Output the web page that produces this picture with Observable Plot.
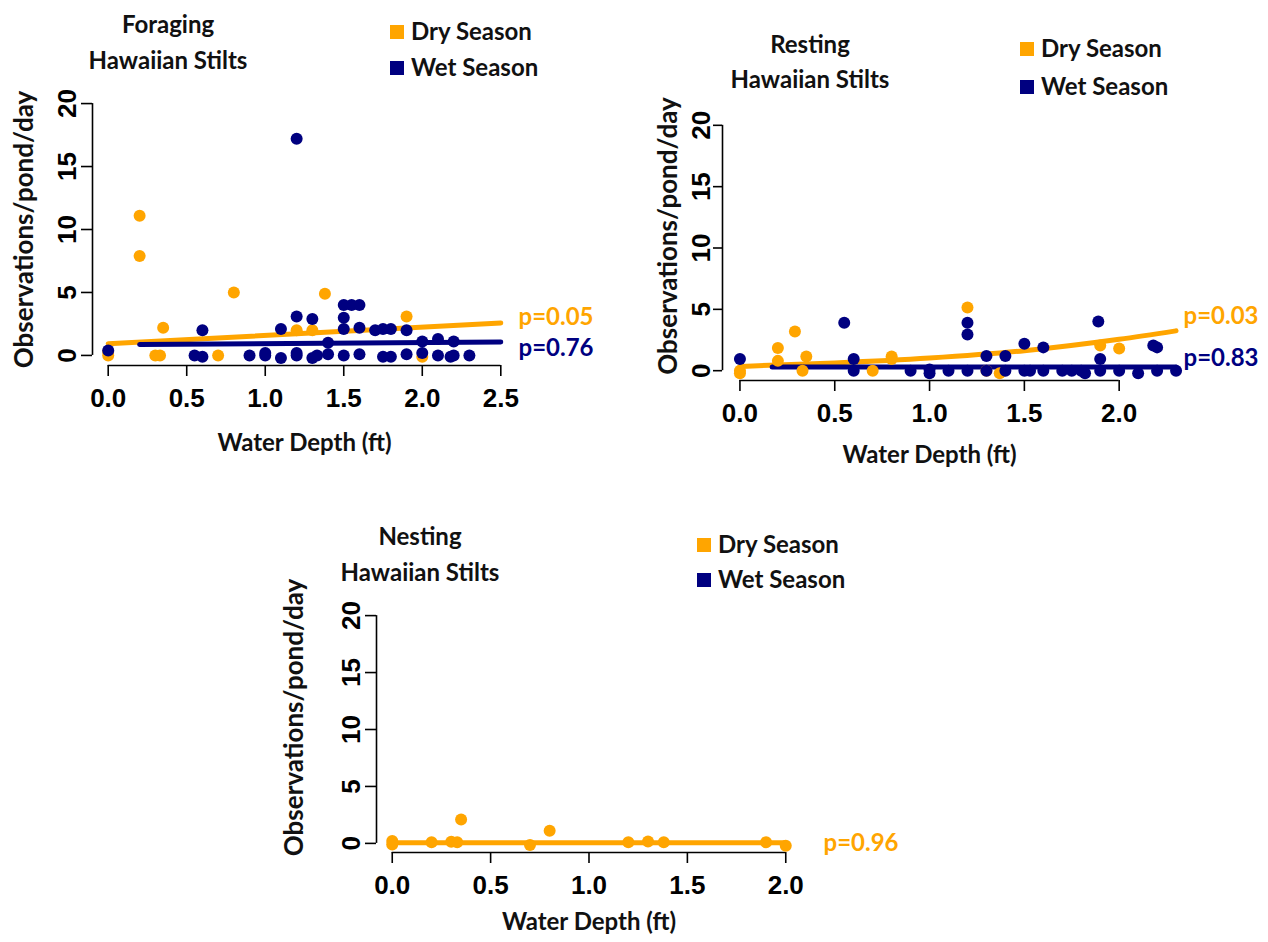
<!DOCTYPE html>
<html><head><meta charset="utf-8">
<script src="https://cdn.jsdelivr.net/npm/d3@7"></script>
<script src="https://cdn.jsdelivr.net/npm/@observablehq/plot@0.6"></script>
<style>
body{margin:0;background:#fff;}
#chart{position:relative;width:1268px;height:942px;overflow:hidden;background:#fff;}
.abs{position:absolute;}
.t{font-family:Lato,"Open Sans",sans-serif;font-weight:700;font-size:24px;line-height:24px;color:#111;white-space:nowrap;}
.ctr{transform:translateX(-50%);}
.sw{position:absolute;width:14px;height:14px;}
svg{position:absolute;background:transparent;overflow:visible;}
</style></head><body><div id="chart"></div>
<script>
// ---------- data ----------
const seasons = ["Dry Season", "Wet Season"];
const seasonColors = ["#FFA500", "#000080"];
const yTicks = [0, 5, 10, 15, 20];
const xTicksForaging = [0, 0.5, 1.0, 1.5, 2.0, 2.5];
const xTicksResting = [0, 0.5, 1.0, 1.5, 2.0];
const xTicksNesting = [0, 0.5, 1.0, 1.5, 2.0];
const panelTitles = ["Foraging", "Resting", "Nesting"];
const titleSub = "Hawaiian Stilts";
const xLabel = "Water Depth (ft)";
const yLabel = "Observations/pond/day";

// Foraging
const foragingDryX = [0, 0, 0.2, 0.2, 0.3, 0.33, 0.35, 0.7, 0.8, 1.2, 1.3, 1.38, 1.9, 2.0];
const foragingDryY = [0, 0.3, 11.1, 7.9, 0, 0, 2.2, 0, 5.0, 2.0, 2.0, 4.9, 3.1, -0.1];
const foragingWetX = [0, 0.55, 0.6, 0.6, 0.9, 1.0, 1.0, 1.1, 1.1, 1.2, 1.2, 1.2, 1.2, 1.3, 1.3, 1.33, 1.4, 1.4,
  1.5, 1.55, 1.6, 1.5, 1.5, 1.5, 1.6, 1.6, 1.7, 1.75, 1.8, 1.75, 1.8, 1.9, 1.9, 2.0, 2.0, 2.1, 2.1, 2.2, 2.18, 2.2, 2.3];
const foragingWetY = [0.4, 0, -0.1, 2.0, 0, 0, 0.2, 2.1, -0.2, 17.2, 3.1, 0, 0.2, 2.9, -0.2, 0, 1.0, 0.1,
  4.0, 4.0, 4.0, 3.0, 2.1, 0, 2.2, 0.1, 2.0, 2.1, 2.1, -0.1, -0.1, 2.0, 0.1, 1.1, 0.2, 1.3, 0, 1.1, -0.1, 0, 0];
const foragingDryFitX = [0, 2.5];
const foragingDryFitY = [0.93, 2.58];
const foragingWetFitX = [0.2, 2.5];
const foragingWetFitY = [0.86, 1.06];
const foragingP = ["p=0.05", "p=0.76"];
const foragingPY = [3.0, 0.55];

// Resting
const restingDryX = [0, 0, 0.2, 0.2, 0.29, 0.35, 0.33, 0.8, 0.8, 0.7, 1.2, 1.3, 1.37, 1.9, 2.0];
const restingDryY = [0, -0.2, 1.85, 0.8, 3.2, 1.15, 0, 1.15, 0.95, 0, 5.15, 0, -0.2, 2.05, 1.8];
const restingWetX = [0, 0.55, 0.6, 0.6, 0.9, 1.0, 1.0, 1.1, 1.2, 1.2, 1.2, 1.3, 1.3, 1.4, 1.4, 1.5, 1.5, 1.53,
  1.6, 1.6, 1.7, 1.75, 1.8, 1.82, 1.89, 1.9, 1.9, 2.0, 2.1, 2.18, 2.2, 2.2, 2.3];
const restingWetY = [0.95, 3.9, 0.95, 0, 0, 0.1, -0.2, 0, 3.9, 2.95, 0, 1.2, 0, 1.2, 0, 2.2, 0, 0,
  1.9, 0, 0, 0, 0, -0.2, 4.0, 0.95, 0, 0, -0.2, 2.05, 1.9, 0, 0];
const restingDryFitX = [0, 0.5, 1.0, 1.5, 2.0, 2.3];
const restingDryFitY = [0.35, 0.63, 1.03, 1.63, 2.56, 3.25];
const restingWetFitX = [0.17, 2.3];
const restingWetFitY = [0.3, 0.3];
const restingP = ["p=0.03", "p=0.83"];
const restingPY = [4.4, 1.0];

// Nesting
const nestingDryX = [0, 0, 0.2, 0.3, 0.33, 0.35, 0.7, 0.8, 1.2, 1.3, 1.38, 1.9, 2.0];
const nestingDryY = [0.2, -0.1, 0.1, 0.15, 0.1, 2.1, -0.15, 1.1, 0.1, 0.17, 0.1, 0.1, -0.2];
const nestingWetX = [];
const nestingWetY = [];
const nestingDryFitX = [0, 2.0];
const nestingDryFitY = [0.05, 0.05];
const nestingP = ["p=0.96"];
const nestingPY = [0.05];

// ---------- build ----------
const zip = (xs, ys) => xs.map((x, i) => ({x, y: ys[i]}));
const tickFont = "'Liberation Sans',Arial,sans-serif";
const textFont = "Lato,'Open Sans',sans-serif";
const chart = document.getElementById("chart");

function panel(o) {
  const yDomain = [yTicks[0] - 0.04 * (yTicks.at(-1) - yTicks[0]), yTicks.at(-1) + 0.04 * (yTicks.at(-1) - yTicks[0])];
  const span = o.xMax - o.xTicks[0];
  const xDomain = [o.xTicks[0] - 0.04 * span, o.xMax + 0.04 * span];
  const pData = o.pText.map((t, i) => ({label: t, y: o.pY[i], color: seasonColors[i]}));
  const svg = Plot.plot({
    width: o.width, height: o.height,
    marginLeft: o.ml, marginRight: o.mr, marginTop: o.mt, marginBottom: o.mb,
    x: {domain: xDomain},
    y: {domain: yDomain},
    style: {fontFamily: tickFont, fontWeight: "bold", fontSize: "26px", color: "#000", background: "transparent"},
    marks: [
      Plot.ruleX([xDomain[0]], {y1: yTicks[0], y2: yTicks.at(-1), stroke: "#000", strokeWidth: 1.6}),
      Plot.ruleY([yDomain[0]], {x1: o.xTicks[0], x2: o.xTicks.at(-1), stroke: "#000", strokeWidth: 1.6}),
      Plot.axisY({ticks: yTicks, tickSize: o.yTickSize, tickPadding: o.yTickPad, tickRotate: -90, label: null, strokeWidth: 1.6, tickFormat: d => String(d)}),
      Plot.axisX({ticks: o.xTicks, tickSize: 11, tickPadding: 12, label: null, strokeWidth: 1.6, tickFormat: d => d.toFixed(1)}),
      Plot.line(zip(o.dryFitX, o.dryFitY), {x: "x", y: "y", stroke: seasonColors[0], strokeWidth: 5, curve: "monotone-x"}),
      o.wetFitX ? Plot.line(zip(o.wetFitX, o.wetFitY), {x: "x", y: "y", stroke: seasonColors[1], strokeWidth: 5}) : null,
      Plot.dot(zip(o.dryX, o.dryY), {x: "x", y: "y", r: 6, fill: seasonColors[0]}),
      Plot.dot(zip(o.wetX, o.wetY), {x: "x", y: "y", r: 6, fill: seasonColors[1]}),
      Plot.text(pData, {x: xDomain[1], y: "y", text: "label", fill: "color", textAnchor: "start", dx: o.pDx,
        fontFamily: textFont, fontSize: 24, fontWeight: "bold"}),
      Plot.text([xLabel], {x: (o.xTicks[0] + o.xTicks.at(-1)) / 2, frameAnchor: "bottom", dy: o.xlabDy, text: d => d,
        textAnchor: "middle", lineAnchor: "middle",
        fontFamily: textFont, fontSize: 24, fontWeight: "bold", fill: "#111"}),
      Plot.text([yLabel], {frameAnchor: "left", rotate: -90, dx: o.ylabDx, dy: o.ylabDy, text: d => d,
        textAnchor: "middle", lineAnchor: "middle",
        fontFamily: textFont, fontSize: 26, fontWeight: "bold", fill: "#111"})
    ]
  });
  svg.style.left = o.left + "px";
  svg.style.top = o.top + "px";
  chart.appendChild(svg);

  // title
  [o.title, titleSub].forEach((t, i) => {
    const d = document.createElement("div");
    d.className = "abs t ctr";
    d.textContent = t;
    d.style.left = o.titleX + "px";
    d.style.top = (o.titleY[i] - 12) + "px";
    chart.appendChild(d);
  });
  // legend
  seasons.forEach((s, i) => {
    const sw = document.createElement("div");
    sw.className = "sw";
    sw.style.background = seasonColors[i];
    sw.style.left = o.legX + "px";
    sw.style.top = (o.legY[i] - 6) + "px";
    chart.appendChild(sw);
    const d = document.createElement("div");
    d.className = "abs t";
    d.textContent = s;
    d.style.left = (o.legX + 21) + "px";
    d.style.top = (o.legY[i] - 12) + "px";
    chart.appendChild(d);
  });
}

panel({
  title: panelTitles[0], left: 0, top: 0, width: 640, height: 470, ml: 92, mr: 124, mt: 93, mb: 105,
  xTicks: xTicksForaging, xMax: 2.5, yTickSize: 11, yTickPad: 6,
  dryX: foragingDryX, dryY: foragingDryY, wetX: foragingWetX, wetY: foragingWetY,
  dryFitX: foragingDryFitX, dryFitY: foragingDryFitY, wetFitX: foragingWetFitX, wetFitY: foragingWetFitY,
  pText: foragingP, pY: foragingPY, pDx: 2, xlabDy: 78, ylabDx: -68, ylabDy: 0,
  titleX: 168, titleY: [24, 60], legX: 390, legY: [31, 67]
});
panel({
  title: panelTitles[1], left: 640, top: 0, width: 628, height: 480, ml: 82, mr: 75, mt: 115, mb: 100,
  xTicks: xTicksResting, xMax: 2.3, yTickSize: 9, yTickPad: 4,
  dryX: restingDryX, dryY: restingDryY, wetX: restingWetX, wetY: restingWetY,
  dryFitX: restingDryFitX, dryFitY: restingDryFitY, wetFitX: restingWetFitX, wetFitY: restingWetFitY,
  pText: restingP, pY: restingPY, pDx: -10, xlabDy: 75, ylabDx: -54, ylabDy: -12,
  titleX: 810, titleY: [44, 79], legX: 1020, legY: [48, 86]
});
panel({
  title: panelTitles[2], left: 250, top: 480, width: 750, height: 462, ml: 126, mr: 199, mt: 126, mb: 90,
  xTicks: xTicksNesting, xMax: 2.0, yTickSize: 11, yTickPad: 6,
  dryX: nestingDryX, dryY: nestingDryY, wetX: nestingWetX, wetY: nestingWetY,
  dryFitX: nestingDryFitX, dryFitY: nestingDryFitY, wetFitX: null, wetFitY: null,
  pText: nestingP, pY: nestingPY, pDx: 22, xlabDy: 70, ylabDx: -82, ylabDy: -12,
  titleX: 420, titleY: [536, 572], legX: 697, legY: [544, 579]
});
</script></body></html>
